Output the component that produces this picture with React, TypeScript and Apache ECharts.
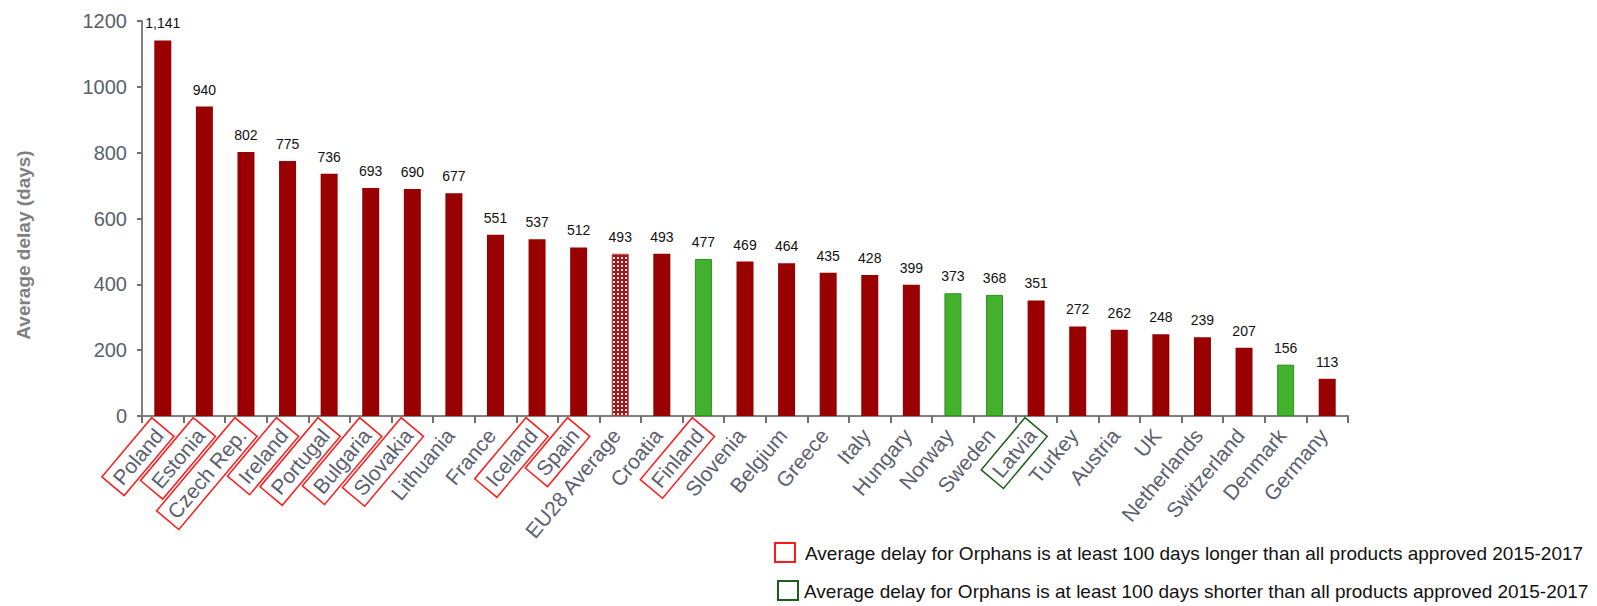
import { useEffect, useRef } from 'react';
import * as echarts from 'echarts';

const countries = [
  'Poland', 'Estonia', 'Czech Rep.', 'Ireland', 'Portugal', 'Bulgaria', 'Slovakia', 'Lithuania',
  'France', 'Iceland', 'Spain', 'EU28 Average', 'Croatia', 'Finland', 'Slovenia', 'Belgium',
  'Greece', 'Italy', 'Hungary', 'Norway', 'Sweden', 'Latvia', 'Turkey', 'Austria', 'UK',
  'Netherlands', 'Switzerland', 'Denmark', 'Germany',
];
const delays = [
  1141, 940, 802, 775, 736, 693, 690, 677, 551, 537, 512, 493, 493, 477, 469, 464,
  435, 428, 399, 373, 368, 351, 272, 262, 248, 239, 207, 156, 113,
];
// bar group: 'red' regular, 'green' highlighted, 'avg' EU average
const barKind = [
  'red', 'red', 'red', 'red', 'red', 'red', 'red', 'red', 'red', 'red', 'red', 'avg', 'red',
  'green', 'red', 'red', 'red', 'red', 'red', 'green', 'green', 'red', 'red', 'red', 'red',
  'red', 'red', 'green', 'red',
];
// label box: 'longer' (red box), 'shorter' (green box), 'plain'
const labelBox = [
  'longer', 'longer', 'longer', 'longer', 'longer', 'longer', 'longer', 'plain', 'plain',
  'longer', 'longer', 'plain', 'plain', 'longer', 'plain', 'plain', 'plain', 'plain', 'plain',
  'plain', 'plain', 'shorter', 'plain', 'plain', 'plain', 'plain', 'plain', 'plain', 'plain',
];
const yAxisTitle = 'Average delay (days)';
const legendTexts = [
  'Average delay for Orphans is at least 100 days longer than all products approved 2015-2017',
  'Average delay for Orphans is at least 100 days shorter than all products approved 2015-2017',
];

const FONT = 'Liberation Sans, Arial, sans-serif';
const RED = '#990000';
const GREEN = '#43b02e';
const LABEL_GRAY = '#5b6070';

function makePattern(): HTMLCanvasElement {
  const c = document.createElement('canvas');
  c.width = 4;
  c.height = 4;
  const ctx = c.getContext('2d')!;
  ctx.fillStyle = '#a01818';
  ctx.fillRect(0, 0, 4, 4);
  ctx.fillStyle = '#f4e6e6';
  ctx.fillRect(1, 1, 2, 2);
  return c;
}

export default function App() {
  const ref = useRef<HTMLDivElement>(null);
  useEffect(() => {
    if (!ref.current) return;
    const chart = echarts.init(ref.current, null, { renderer: 'svg' });
    const pattern = makePattern();
    const styleFor = (k: string) => {
      if (k === 'green') return { color: GREEN, borderColor: '#2c961c', borderWidth: 1 };
      if (k === 'avg')
        return {
          color: { image: pattern, repeat: 'repeat' },
          borderColor: '#b04040',
          borderWidth: 1,
        };
      return { color: RED };
    };
    const richBase = { fontSize: 21, fontFamily: FONT, color: LABEL_GRAY, padding: [4, 6, 4, 6] };
    chart.setOption({
      animation: false,
      backgroundColor: '#ffffff',
      grid: { left: 142, right: 249, top: 21, bottom: 190, containLabel: false },
      xAxis: {
        type: 'category',
        data: countries,
        axisLine: { lineStyle: { color: '#7f7f7f', width: 2 } },
        axisTick: { show: true, length: 7, lineStyle: { color: '#6f6f6f', width: 2 } },
        axisLabel: {
          interval: 0,
          rotate: 50,
          margin: 11,
          formatter: (v: string, i: number) => `{${labelBox[i]}|${v}}`,
          rich: {
            plain: { ...richBase },
            longer: { ...richBase, borderColor: '#ff1a1a', borderWidth: 1.5 },
            shorter: { ...richBase, borderColor: '#1d5e1d', borderWidth: 1.5 },
          },
        },
      },
      yAxis: {
        type: 'value',
        min: 0,
        max: 1200,
        interval: 200,
        splitLine: { show: false },
        axisLine: { show: true, lineStyle: { color: '#7f7f7f', width: 2 } },
        axisTick: { show: true, length: 5, lineStyle: { color: '#6f6f6f', width: 2 } },
        axisLabel: {
          fontSize: 20,
          fontFamily: FONT,
          color: '#5a5f6b',
          margin: 15,
          formatter: (v: number) => String(v),
        },
      },
      series: [
        {
          type: 'bar',
          barWidth: 17,
          data: delays.map((v, i) => ({ value: v, itemStyle: styleFor(barKind[i]) })),
          label: {
            show: true,
            position: 'top',
            distance: 10,
            color: '#111111',
            fontSize: 14,
            fontFamily: FONT,
            formatter: (p: any) => Number(p.value).toLocaleString('en-US'),
          },
        },
      ],
      graphic: [
        {
          type: 'text',
          x: 23,
          y: 245,
          rotation: Math.PI / 2,
          style: {
            text: yAxisTitle,
            fontSize: 19,
            fontWeight: 'bold',
            fontFamily: FONT,
            fill: '#7f7f7f',
            align: 'center',
            verticalAlign: 'middle',
          },
        },
        {
          type: 'rect',
          shape: { x: 775, y: 543, width: 20, height: 19 },
          style: { fill: 'none', stroke: '#ff1a1a', lineWidth: 2 },
        },
        {
          type: 'text',
          x: 805,
          y: 553,
          style: {
            text: legendTexts[0],
            fontSize: 19,
            fontFamily: FONT,
            fill: '#111111',
            verticalAlign: 'middle',
          },
        },
        {
          type: 'rect',
          shape: { x: 778, y: 581, width: 20, height: 19 },
          style: { fill: 'none', stroke: '#1d5e1d', lineWidth: 2 },
        },
        {
          type: 'text',
          x: 804,
          y: 591,
          style: {
            text: legendTexts[1],
            fontSize: 19,
            fontFamily: FONT,
            fill: '#111111',
            verticalAlign: 'middle',
          },
        },
      ],
    });
    return () => chart.dispose();
  }, []);
  return (
    <div
      ref={ref}
      style={{ position: 'fixed', left: 0, top: 0, width: 1597, height: 606, background: '#fff' }}
    />
  );
}
